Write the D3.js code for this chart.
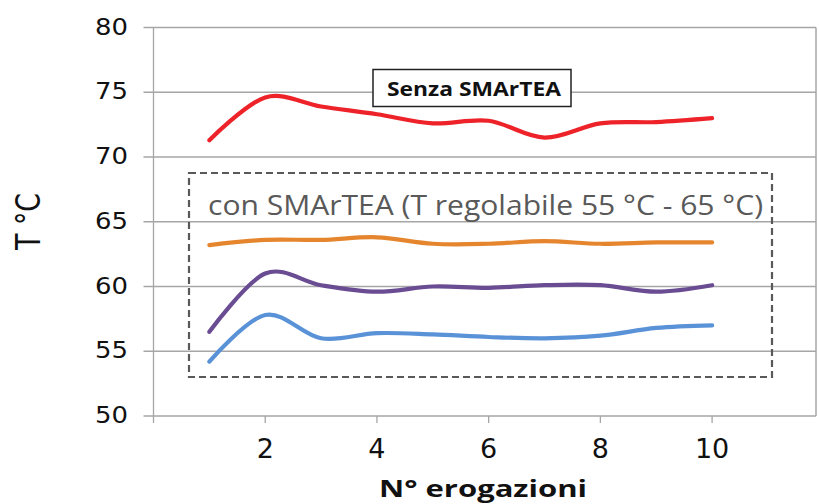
<!DOCTYPE html>
<html>
<head>
<meta charset="utf-8">
<script src="https://cdn.jsdelivr.net/npm/d3@7"></script>
<style>
  html, body { margin: 0; padding: 0; background: #fff; }
  svg { display: block; font-family: "Open Sans", Lato, sans-serif; }
</style>
</head>
<body>
<svg id="chart" width="819" height="504"></svg>
<script>
// data
const erogazioni = [1, 2, 3, 4, 5, 6, 7, 8, 9, 10];
const senzaSmartea = [71.3, 74.6, 73.9, 73.3, 72.6, 72.8, 71.5, 72.6, 72.7, 73.0];
const conArancio   = [63.2, 63.6, 63.6, 63.8, 63.3, 63.3, 63.5, 63.3, 63.4, 63.4];
const conViola     = [56.5, 61.0, 60.1, 59.6, 60.0, 59.9, 60.1, 60.1, 59.6, 60.1];
const conBlu       = [54.2, 57.8, 56.0, 56.4, 56.3, 56.1, 56.0, 56.2, 56.8, 57.0];
const yTicks = [50, 55, 60, 65, 70, 75, 80];
const xTicks = [2, 4, 6, 8, 10];

const series = [
  { values: senzaSmartea, color: '#ee2229' },
  { values: conArancio,   color: '#e5862f' },
  { values: conViola,     color: '#6a4c93' },
  { values: conBlu,       color: '#5a92d8' }
];

const svg = d3.select('#chart');
const plotL = 153.5, plotR = 816, plotT = 27.5, plotB = 416;

const x = d3.scaleLinear().domain([0, 11.86]).range([plotL, plotR]);
const y = d3.scaleLinear().domain([50, 80]).range([plotB, plotT]);

// horizontal gridlines
svg.append('g').selectAll('line').data(yTicks).join('line')
  .attr('x1', plotL - 10).attr('x2', plotR)
  .attr('y1', d => y(d)).attr('y2', d => y(d))
  .attr('stroke', '#a6a6a6').attr('stroke-width', 1.3);

// right border
svg.append('line')
  .attr('x1', plotR).attr('x2', plotR).attr('y1', plotT).attr('y2', plotB)
  .attr('stroke', '#a6a6a6').attr('stroke-width', 1.5);

// y axis line + labels
svg.append('line')
  .attr('x1', plotL).attr('x2', plotL).attr('y1', plotT).attr('y2', plotB + 7)
  .attr('stroke', '#a6a6a6').attr('stroke-width', 1.3);
svg.append('g').selectAll('text').data(yTicks).join('text')
  .attr('x', 95).attr('y', d => y(d) + 7)
  .attr('font-family', '"DejaVu Sans", sans-serif')
  .attr('font-size', 23.5).attr('fill', '#111')
  .attr('textLength', 33).attr('lengthAdjust', 'spacingAndGlyphs')
  .text(d => d);

// x axis ticks + labels
svg.append('g').selectAll('line').data(xTicks).join('line')
  .attr('x1', d => x(d)).attr('x2', d => x(d))
  .attr('y1', plotB).attr('y2', plotB + 7)
  .attr('stroke', '#a6a6a6').attr('stroke-width', 1.3);
svg.append('g').selectAll('text').data(xTicks).join('text')
  .attr('x', d => x(d)).attr('y', 458)
  .attr('text-anchor', 'middle').attr('font-family', '"DejaVu Sans", sans-serif')
  .attr('font-size', 27).attr('fill', '#111')
  .text(d => d);

// axis titles
svg.append('text')
  .attr('transform', 'translate(40,250) rotate(-90)')
  .attr('font-family', '"DejaVu Sans", sans-serif')
  .attr('font-size', 34).attr('fill', '#111')
  .attr('textLength', 57).attr('lengthAdjust', 'spacingAndGlyphs')
  .text('T °C');
svg.append('text')
  .attr('x', 379).attr('y', 497)
  .attr('font-size', 23.5).attr('font-weight', 'bold').attr('fill', '#111')
  .attr('textLength', 208).attr('lengthAdjust', 'spacingAndGlyphs')
  .text('N° erogazioni');

// dashed group box
svg.append('rect')
  .attr('x', 189).attr('y', 173).attr('width', 583).attr('height', 204)
  .attr('fill', 'none').attr('stroke', '#595959').attr('stroke-width', 2.2)
  .attr('stroke-dasharray', '7,4');
svg.append('text')
  .attr('x', 208).attr('y', 215)
  .attr('font-size', 27).attr('fill', '#595959')
  .attr('textLength', 555).attr('lengthAdjust', 'spacingAndGlyphs')
  .text('con SMArTEA (T regolabile 55 °C - 65 °C)');

// smoothed lines
const line = d3.line()
  .x((d, i) => x(erogazioni[i]))
  .y(d => y(d))
  .curve(d3.curveCatmullRom.alpha(0));

svg.append('g').selectAll('path').data(series).join('path')
  .attr('d', d => line(d.values))
  .attr('fill', 'none')
  .attr('stroke', d => d.color)
  .attr('stroke-width', 4.2)
  .attr('stroke-linecap', 'round')
  .attr('stroke-linejoin', 'round');

// "Senza SMArTEA" label box
svg.append('rect')
  .attr('x', 373).attr('y', 69.5).attr('width', 198).attr('height', 37)
  .attr('fill', '#fff').attr('stroke', '#222').attr('stroke-width', 1.5);
svg.append('text')
  .attr('x', 387).attr('y', 96)
  .attr('font-size', 19).attr('font-weight', 'bold').attr('fill', '#111')
  .attr('textLength', 174).attr('lengthAdjust', 'spacingAndGlyphs')
  .text('Senza SMArTEA');
</script>
</body>
</html>
